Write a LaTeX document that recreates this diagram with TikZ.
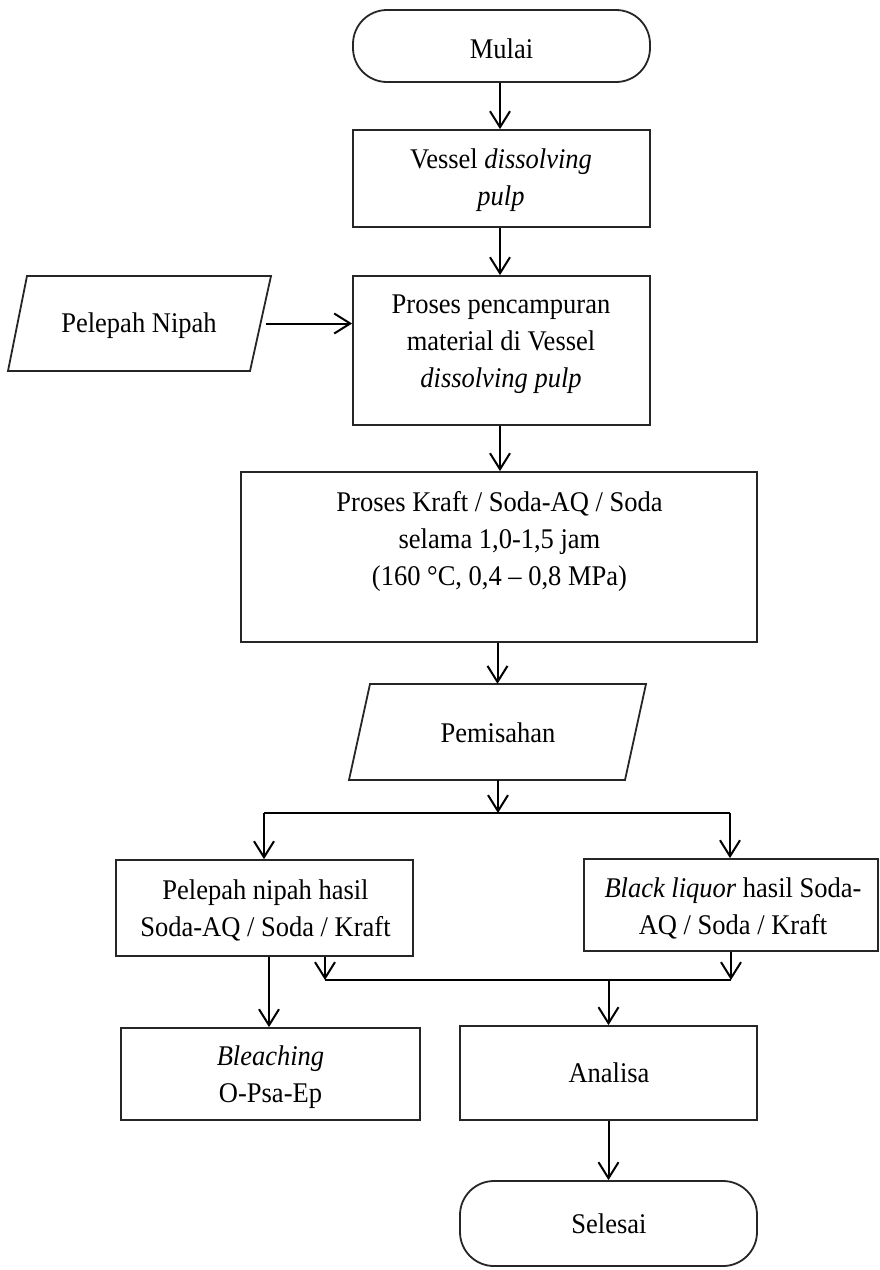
\documentclass[tikz,border=0pt]{standalone}
\usepackage{fontspec}
\setmainfont{Liberation Serif}[FakeStretch=0.93]
\usetikzlibrary{arrows.meta}
\tikzset{
  shp/.style={draw=black!85, line width=1.8pt},
  boxn/.style={shp, rectangle, inner sep=0pt},
  term/.style={shp, rectangle, rounded corners=34pt, inner sep=0pt},
  ghost/.style={rectangle, inner sep=0pt},
  txt/.style={font=\fontsize{28.5}{37}\selectfont, align=center, inner sep=0pt},
  arr/.style={line width=2pt, draw=black, -{Straight Barb[length=16pt,width=20pt]}},
  ln/.style={line width=2pt, draw=black},
}
\begin{document}
\begin{tikzpicture}[x=1pt,y=-1pt]
\fill[white] (0,0) rectangle (880,1270);
\useasboundingbox (0,0) rectangle (880,1270);
% shapes
\node[term, minimum width=297pt, minimum height=72pt] (mulai) at (501.5,46) {};
\node[boxn, minimum width=297pt, minimum height=97pt] (vessel) at (501.5,178.5) {};
\node[boxn, minimum width=297pt, minimum height=149pt] (mix) at (501.5,350.5) {};
\node[ghost, minimum width=244pt, minimum height=95pt] (pel) at (139.5,323.5) {};
\draw[shp] (27,276) -- (271,276) -- (250,371) -- (8,371) -- cycle;
\node[boxn, minimum width=516pt, minimum height=170pt] (kraft) at (499,557) {};
\node[ghost, minimum width=276pt, minimum height=96pt] (pem) at (497.5,732) {};
\draw[shp] (370,684) -- (646,684) -- (625,780) -- (349,780) -- cycle;
\node[boxn, minimum width=297pt, minimum height=96pt] (nipah) at (264.5,908) {};
\node[boxn, minimum width=294pt, minimum height=92pt] (black) at (731,905) {};
\node[boxn, minimum width=299pt, minimum height=92pt] (bleach) at (270.5,1074) {};
\node[boxn, minimum width=297pt, minimum height=94pt] (analisa) at (608.5,1073) {};
\node[term, minimum width=297pt, minimum height=85pt] (selesai) at (608.5,1223.5) {};
% texts
\node[txt, anchor=base] (mulaiT) at (501.5,58) {Mulai};
\node[txt] (vesselT) at (501,180) {Vessel \textit{dissolving}\\\textit{pulp}};
\node[txt] (mixT) at (501,344) {Proses pencampuran\\material di Vessel\\\textit{dissolving pulp}};
\node[txt, anchor=base] (pelT) at (139,332) {Pelepah Nipah};
\node[txt] (kraftT) at (499.5,541) {Proses Kraft / Soda-AQ / Soda\\selama 1,0-1,5 jam\\(160 °C, 0,4 – 0,8 MPa)};
\node[txt, anchor=base] (pemT) at (498,742) {Pemisahan};
\node[txt] (nipahT) at (265.5,910) {Pelepah nipah hasil\\Soda-AQ / Soda / Kraft};
\node[txt] (blackT) at (733,908) {\textit{Black liquor} hasil Soda-\\AQ / Soda / Kraft};
\node[txt] (bleachT) at (270.5,1077) {\textit{Bleaching}\\O-Psa-Ep};
\node[txt, anchor=base] (analisaT) at (609,1082) {Analisa};
\node[txt, anchor=base] (selesaiT) at (609,1233) {Selesai};
% junction points
\coordinate (br) at (498,813);
\coordinate (brL) at (264,813);
\coordinate (brR) at (730,813);
\coordinate (mgL) at (325,980);
\coordinate (mgR) at (731,980);
\coordinate (m1) at (500,82);
\coordinate (bl) at (269,1000);
% connectors
\draw[arr] (mulai.south -| m1) -- (m1 |- vessel.north);
\draw[arr] (vessel.south -| m1) -- (m1 |- mix.north);
\draw[arr] ([xshift=4.5pt]pel.east) -- (pel.east -| mix.west);
\draw[arr] (mix.south -| m1) -- (m1 |- kraft.north);
\draw[arr] (kraft.south -| pem.north) -- (pem.north);
\draw[arr] (pem.south -| br) -- (br);
\draw[ln] (brL) -- (brR);
\draw[arr] (brL) -- (brL |- nipah.north);
\draw[arr] (brR) -- (brR |- black.north);
\draw[arr] (nipah.south -| bl) -- (bl |- bleach.north);
\draw[arr] (nipah.south -| mgL) -- (mgL);
\draw[arr] (black.south) -- (mgR);
\draw[ln] (mgL) -- (mgR);
\draw[arr] (analisa.north |- mgL) -- (analisa.north);
\draw[arr] (analisa.south) -- (selesai.north);
\end{tikzpicture}
\end{document}
